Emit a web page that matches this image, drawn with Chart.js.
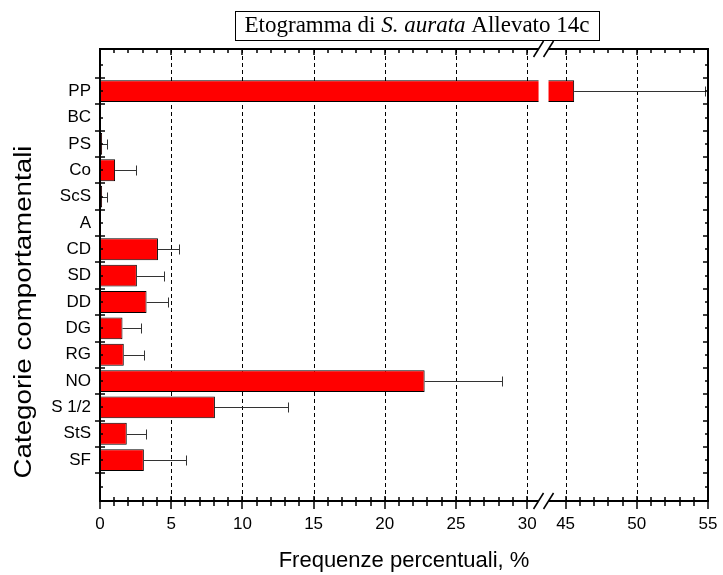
<!DOCTYPE html>
<html>
<head>
<meta charset="utf-8">
<script src="https://cdn.jsdelivr.net/npm/chart.js@4/dist/chart.umd.min.js"></script>
<style>
  html, body { margin: 0; padding: 0; background: #fff; }
  #wrap { width: 723px; height: 575px; }
</style>
</head>
<body>
<div id="wrap"><canvas id="c" width="723" height="575"></canvas></div>
<script>
// Behavioural categories (top to bottom) with mean percentage frequency and + error
const categories = ['PP', 'BC', 'PS', 'Co', 'ScS', 'A', 'CD', 'SD', 'DD', 'DG', 'RG', 'NO', 'S 1/2', 'StS', 'SF'];
const means      = [45.6, 0, 0.15, 1.06, 0.15, 0, 4.07, 2.59, 3.27, 1.58, 1.67, 22.8, 8.07, 1.88, 3.08];
const errors     = [9.2, 0, 0.32, 1.48, 0.32, 0, 1.45, 1.88, 1.48, 1.27, 1.39, 5.4, 5.1, 1.37, 2.99];
const xTickValues = [0, 5, 10, 15, 20, 25, 30, 45, 50, 55];
const xMinorValues = [1,2,3,4,6,7,8,9,11,12,13,14,16,17,18,19,21,22,23,24,26,27,28,29,46,47,48,49,51,52,53,54];

// Broken x axis: values up to BREAK_LO map straight, values from BREAK_HI on are shifted left
const BREAK_LO = 30.8, BREAK_HI = 43.8, GAP = 0.7;
const toAxis = v => v <= BREAK_LO ? v : (v >= BREAK_HI ? v - BREAK_HI + BREAK_LO + GAP : BREAK_LO);

const SANS = 'Arial, "Liberation Sans", sans-serif';
const LABEL_FONT = { family: SANS, size: 17 };
const TITLE_FONT = { family: SANS, size: 22 };
const Y_TITLE = 'Categorie comportamentali';

const decor = {
  id: 'decor',
  beforeDatasetsDraw(chart) {
    const { ctx, chartArea: a, scales: { x } } = chart;
    ctx.save();
    ctx.strokeStyle = '#000';
    ctx.lineWidth = 1;
    ctx.setLineDash([4, 3]);
    xTickValues.forEach(v => {
      if (v === 0 || v === 55) return;
      const px = Math.round(x.getPixelForValue(toAxis(v))) + 0.5;
      ctx.beginPath(); ctx.moveTo(px, a.top); ctx.lineTo(px, a.bottom); ctx.stroke();
    });
    ctx.restore();
  },
  afterDatasetsDraw(chart) {
    const { ctx, chartArea: a, scales: { x, y } } = chart;
    const gx0 = x.getPixelForValue(BREAK_LO), gx1 = x.getPixelForValue(BREAK_LO + GAP);
    ctx.save();
    // white gap through the broken bar
    ctx.fillStyle = '#fff';
    ctx.fillRect(gx0, a.top + 1, gx1 - gx0, a.bottom - a.top - 2);

    // error bars (positive side only)
    ctx.strokeStyle = '#333';
    ctx.lineWidth = 1;
    categories.forEach((c, i) => {
      if (!errors[i]) return;
      const py = Math.round(y.getPixelForValue(i)) + 0.5;
      const x0 = x.getPixelForValue(toAxis(means[i]));
      const x1 = Math.round(x.getPixelForValue(toAxis(means[i] + errors[i]))) + 0.5;
      ctx.beginPath();
      ctx.moveTo(x0, py); ctx.lineTo(x1, py);
      ctx.moveTo(x1, py - 5); ctx.lineTo(x1, py + 5);
      ctx.stroke();
    });

    // frame
    const L = a.left, R = a.right, T = a.top, B = a.bottom;
    const cx = (gx0 + gx1) / 2;
    ctx.strokeStyle = '#000';
    ctx.lineWidth = 2;
    ctx.beginPath();
    ctx.moveTo(L, T - 1); ctx.lineTo(L, B + 1);
    ctx.moveTo(R, T - 1); ctx.lineTo(R, B + 1);
    ctx.moveTo(L, T); ctx.lineTo(cx - 5, T);
    ctx.moveTo(cx + 5, T); ctx.lineTo(R, T);
    ctx.moveTo(L, B); ctx.lineTo(cx - 5, B);
    ctx.moveTo(cx + 5, B); ctx.lineTo(R, B);
    ctx.stroke();

    // break marks
    ctx.lineWidth = 1.5;
    [T, B].forEach(yy => {
      [cx - 5, cx + 5].forEach(sx => {
        ctx.beginPath();
        ctx.moveTo(sx - 5, yy + 8); ctx.lineTo(sx + 5, yy - 8);
        ctx.stroke();
      });
    });

    // x ticks
    ctx.lineWidth = 1.5;
    ctx.beginPath();
    xTickValues.forEach(v => {
      const px = Math.round(x.getPixelForValue(toAxis(v)));
      ctx.moveTo(px, B - 5); ctx.lineTo(px, B + 8);
      ctx.moveTo(px, T); ctx.lineTo(px, T + 6);
    });
    xMinorValues.forEach(v => {
      const px = Math.round(x.getPixelForValue(toAxis(v)));
      ctx.moveTo(px, B - 4); ctx.lineTo(px, B + 5);
      ctx.moveTo(px, T); ctx.lineTo(px, T + 4);
    });
    // y ticks: short ones at category centres, long ones at category boundaries
    for (let i = -1; i <= categories.length; i++) {
      const pc = Math.round(y.getPixelForValue(i));
      ctx.moveTo(L, pc); ctx.lineTo(L + 3, pc);
      ctx.moveTo(R, pc); ctx.lineTo(R - 3, pc);
    }
    for (let i = -1; i < categories.length; i++) {
      const pb = Math.round(y.getPixelForValue(i + 0.5));
      ctx.moveTo(L - 5, pb); ctx.lineTo(L + 5, pb);
      ctx.moveTo(R, pb); ctx.lineTo(R - 5, pb);
    }
    ctx.stroke();
    ctx.restore();
  },
  afterDraw(chart) {
    const { ctx } = chart;
    ctx.save();
    // vertical axis title
    ctx.font = '23px ' + SANS;
    const tw = ctx.measureText(Y_TITLE).width;
    ctx.translate(25, 312);
    ctx.rotate(-Math.PI / 2);
    ctx.scale(333 / tw, 1);
    ctx.fillStyle = '#000';
    ctx.textAlign = 'center';
    ctx.textBaseline = 'middle';
    ctx.fillText(Y_TITLE, 0, 0);
    ctx.restore();

    // boxed chart title with italic species name
    const parts = [['Etogramma di ', false], ['S. aurata', true], [' Allevato 14c', false]];
    const base = '23px "Times New Roman", "Liberation Serif", serif';
    ctx.save();
    let w = 0;
    const widths = parts.map(([t, it]) => {
      ctx.font = (it ? 'italic ' : '') + base;
      const m = ctx.measureText(t).width; w += m; return m;
    });
    const cx = 417, ty = 26;
    const bx0 = Math.round(cx - w / 2 - 10) + 0.5, bx1 = Math.round(cx + w / 2 + 10) + 0.5;
    ctx.strokeStyle = '#000'; ctx.lineWidth = 1;
    ctx.strokeRect(bx0, 11.5, bx1 - bx0, 29);
    ctx.fillStyle = '#000';
    ctx.textBaseline = 'middle';
    let px = cx - w / 2;
    parts.forEach(([t, it], i) => {
      ctx.font = (it ? 'italic ' : '') + base;
      ctx.fillText(t, px, ty);
      px += widths[i];
    });
    ctx.restore();
  }
};

new Chart(document.getElementById('c'), {
  type: 'bar',
  data: {
    datasets: [{
      data: means.map((m, i) => ({ x: toAxis(m), y: i })),
      backgroundColor: '#ff0000',
      borderColor: '#000',
      borderWidth: 1,
      barPercentage: 0.83,
      categoryPercentage: 1
    }]
  },
  options: {
    indexAxis: 'y',
    responsive: false,
    animation: false,
    events: [],
    layout: { padding: { top: 49, right: 15, left: 0, bottom: 0 } },
    plugins: { legend: { display: false }, tooltip: { enabled: false } },
    scales: {
      x: {
        type: 'linear',
        min: 0,
        max: toAxis(55),
        afterBuildTicks: s => { s.ticks = xTickValues.map(v => ({ value: toAxis(v) })); },
        afterFit: s => { s.height = 74; s.paddingLeft = 0; s.paddingRight = 0; },
        ticks: {
          autoSkip: false,
          maxRotation: 0,
          color: '#000',
          font: LABEL_FONT,
          padding: 13,
          callback: (val, i) => String(xTickValues[i])
        },
        grid: { display: false, drawTicks: false },
        border: { display: false },
        title: { display: true, text: 'Frequenze percentuali, %', color: '#000', font: TITLE_FONT, padding: { top: 0, bottom: 1 } }
      },
      y: {
        type: 'linear',
        reverse: true,
        offset: false,
        min: -1.6,
        max: 15.55,
        afterBuildTicks: s => { s.ticks = categories.map((c, i) => ({ value: i })); },
        afterFit: s => { s.width = 100; s.paddingTop = 0; s.paddingBottom = 0; },
        ticks: {
          autoSkip: false,
          color: '#000',
          font: LABEL_FONT,
          padding: 9,
          callback: v => categories[Math.round(v)]
        },
        grid: { display: false, drawTicks: false, offset: false },
        border: { display: false }
      }
    }
  },
  plugins: [decor]
});
</script>
</body>
</html>
